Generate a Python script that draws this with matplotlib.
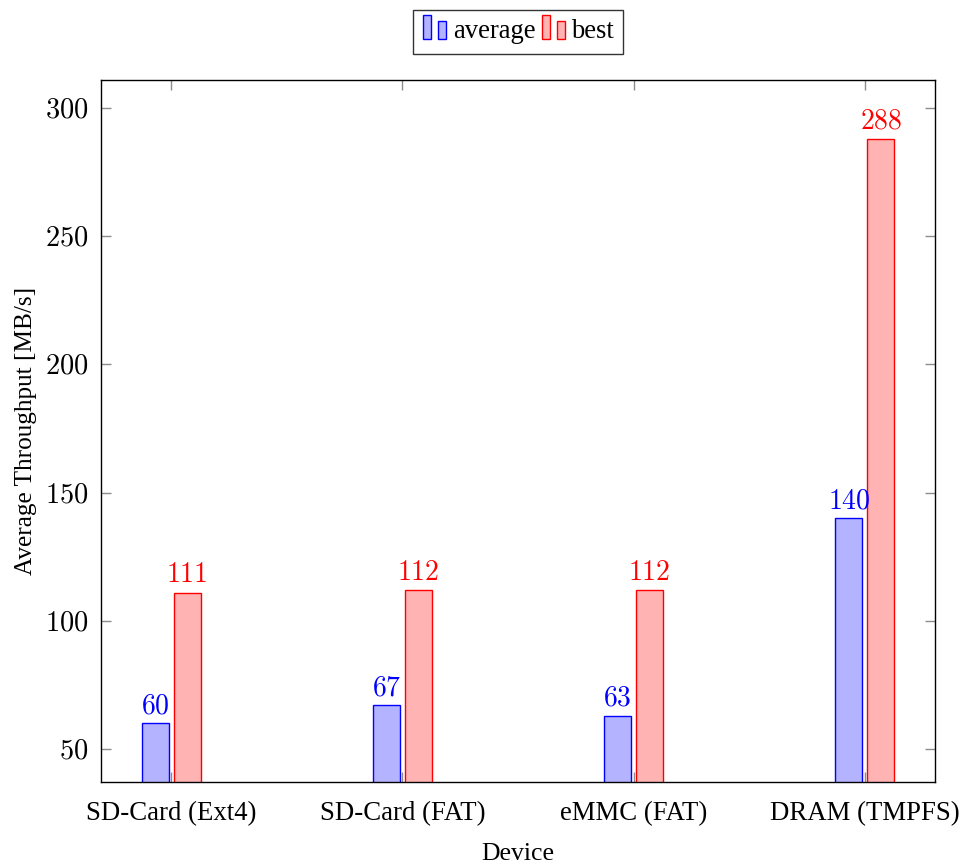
import matplotlib
matplotlib.use("Agg")
import matplotlib.pyplot as plt
from matplotlib.patches import Rectangle
from matplotlib.legend_handler import HandlerBase
import numpy as np

devices = ["SD-Card (Ext4)", "SD-Card (FAT)", "eMMC (FAT)", "DRAM (TMPFS)"]
average = [60, 67, 63, 140]
best = [111, 112, 112, 288]
yticks = [50, 100, 150, 200, 250, 300]

plt.rcParams['font.family'] = ['Liberation Serif', 'DejaVu Serif']
plt.rcParams['mathtext.fontset'] = 'cm'

blue_fill = (0.7, 0.7, 1.0)
red_fill = (1.0, 0.7, 0.7)

fig = plt.figure(figsize=(9.64, 8.67), dpi=100)
ax = fig.add_axes([101/964, 1-782/867, 834/964, 702/867])

x = np.arange(len(devices))
w = 0.117
off = 0.069
b1 = ax.bar(x - off, average, w, color=blue_fill, edgecolor='blue', linewidth=1.0, label='average')
b2 = ax.bar(x + off, best, w, color=red_fill, edgecolor='red', linewidth=1.0, label='best')

for xi, v in zip(x - off, average):
    ax.annotate(r'$%d$' % v, (xi, v), xytext=(0, 3), textcoords='offset points',
                ha='center', va='bottom', color='blue', fontsize=20)
for xi, v in zip(x + off, best):
    ax.annotate(r'$%d$' % v, (xi, v), xytext=(0, 3), textcoords='offset points',
                ha='center', va='bottom', color='red', fontsize=20)

ax.set_xlim(-0.303, 3.303)
ax.set_ylim(37.1, 310.9)
ax.set_xticks(x)
ax.set_xticklabels(devices, fontsize=19.3)
ax.set_yticks(yticks)
ax.set_yticklabels([r'$%d$' % t for t in yticks], fontsize=20.5)
ax.tick_params(direction='in', top=True, right=True, length=7, width=1.0, color='0.55')
ax.tick_params(axis='x', pad=14)
ax.tick_params(axis='y', pad=9)
for s in ax.spines.values():
    s.set_linewidth(1.0)
    s.set_color('black')

ax.set_xlabel('Device', fontsize=18.5, labelpad=12)
ax.set_ylabel('Average Throughput [MB/s]', fontsize=18.2, labelpad=6)


class BarHandler(HandlerBase):
    def create_artists(self, legend, orig_handle, xdescent, ydescent, width, height, fontsize, trans):
        fc = orig_handle.get_facecolor()
        ec = orig_handle.get_edgecolor()
        bw = width * 0.3
        r1 = Rectangle((-xdescent + width * 0.05, -ydescent), bw, height * 1.25,
                       facecolor=fc, edgecolor=ec, linewidth=1.0, transform=trans)
        r2 = Rectangle((-xdescent + width * 0.6, -ydescent), bw, height * 0.95,
                       facecolor=fc, edgecolor=ec, linewidth=1.0, transform=trans)
        return [r1, r2]


h1 = b1.patches[0]
h2 = b2.patches[0]
leg = fig.legend([h1, h2], ['average', 'best'], loc='center', bbox_to_anchor=(518/964, 1-32/867),
                 ncol=2, frameon=True, fancybox=False, fontsize=19.2, handler_map={type(h1): BarHandler()},
                 handlelength=1.0, handletextpad=0.15, columnspacing=0.2, borderpad=0.35,
                 borderaxespad=0.2, edgecolor='black')
leg.get_frame().set_linewidth(1.0)

fig.savefig('out.png', dpi=100)
